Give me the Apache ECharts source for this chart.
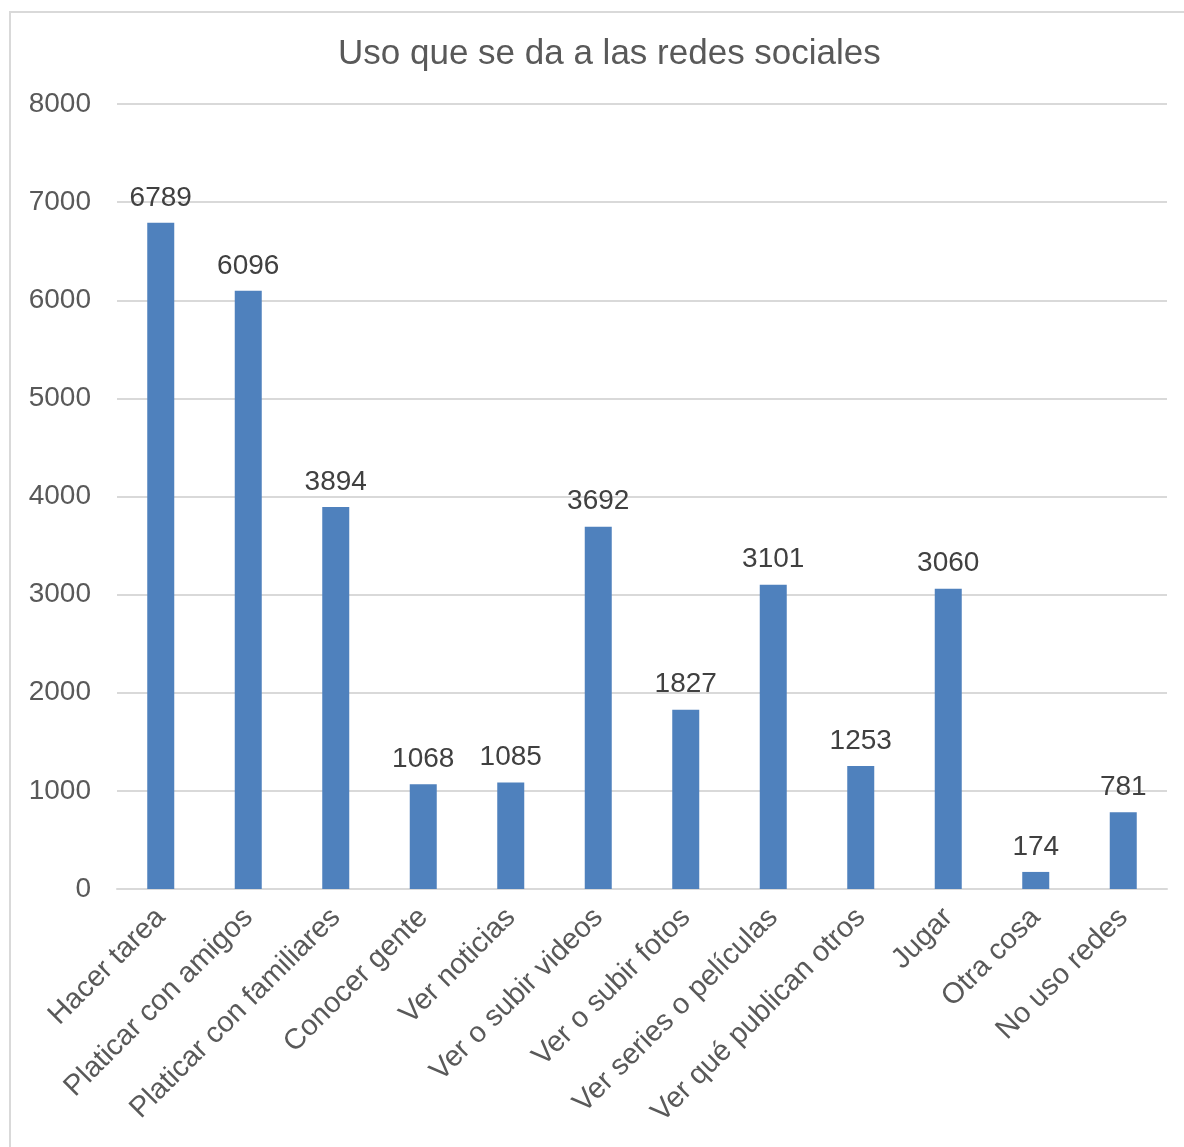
<!DOCTYPE html>
<html>
<head>
<meta charset="utf-8" />
<title>Uso que se da a las redes sociales</title>
<script src="https://cdn.jsdelivr.net/npm/echarts@6/dist/echarts.min.js"></script>
<style>
  html, body { margin: 0; padding: 0; background: #fff; }
  #chart { width: 1184px; height: 1147px; }
</style>
</head>
<body>
<div id="chart"></div>
<script>
// datos
var categorias = ['Hacer tarea', 'Platicar con amigos', 'Platicar con familiares', 'Conocer gente',
  'Ver noticias', 'Ver o subir videos', 'Ver o subir fotos', 'Ver series o películas',
  'Ver qué publican otros', 'Jugar', 'Otra cosa', 'No uso redes'];
var valores = [6789, 6096, 3894, 1068, 1085, 3692, 1827, 3101, 1253, 3060, 174, 781];

var fuente = '"Liberation Sans", Arial, sans-serif';
var gris = '#595959';

var myChart = echarts.init(document.getElementById('chart'));

var option = {
  animation: false,
  textStyle: { fontFamily: fuente },
  title: {
    text: 'Uso que se da a las redes sociales',
    left: 333,
    top: 32,
    textStyle: { fontFamily: fuente, fontSize: 35, fontWeight: 'normal', color: gris }
  },
  // marco del gráfico
  graphic: [{
    type: 'rect',
    shape: { x: 10, y: 12, width: 1300, height: 1300 },
    style: { fill: 'none', stroke: '#d9d9d9', lineWidth: 2 },
    silent: true
  }],
  grid: { left: 117, right: 17, top: 104, bottom: 258 },
  xAxis: {
    type: 'category',
    data: categorias,
    axisTick: { show: false },
    axisLine: { lineStyle: { color: '#d9d9d9', width: 2 } },
    axisLabel: {
      rotate: 45,
      interval: 0,
      margin: 24,
      color: gris,
      fontSize: 29,
      fontFamily: fuente
    }
  },
  yAxis: {
    type: 'value',
    min: 0,
    max: 8000,
    interval: 1000,
    axisLine: { show: false },
    axisTick: { show: false },
    splitLine: { lineStyle: { color: '#d9d9d9', width: 2 } },
    axisLabel: {
      color: gris, fontSize: 28, fontFamily: fuente, margin: 26,
      formatter: function (v) { return String(v); }
    }
  },
  series: [{
    type: 'bar',
    data: valores,
    barWidth: 27,
    itemStyle: { color: '#4f81bd' },
    label: {
      show: true,
      position: 'top',
      distance: 11,
      color: '#404040',
      fontSize: 28,
      fontFamily: fuente
    }
  }]
};

myChart.setOption(option);
</script>
</body>
</html>
